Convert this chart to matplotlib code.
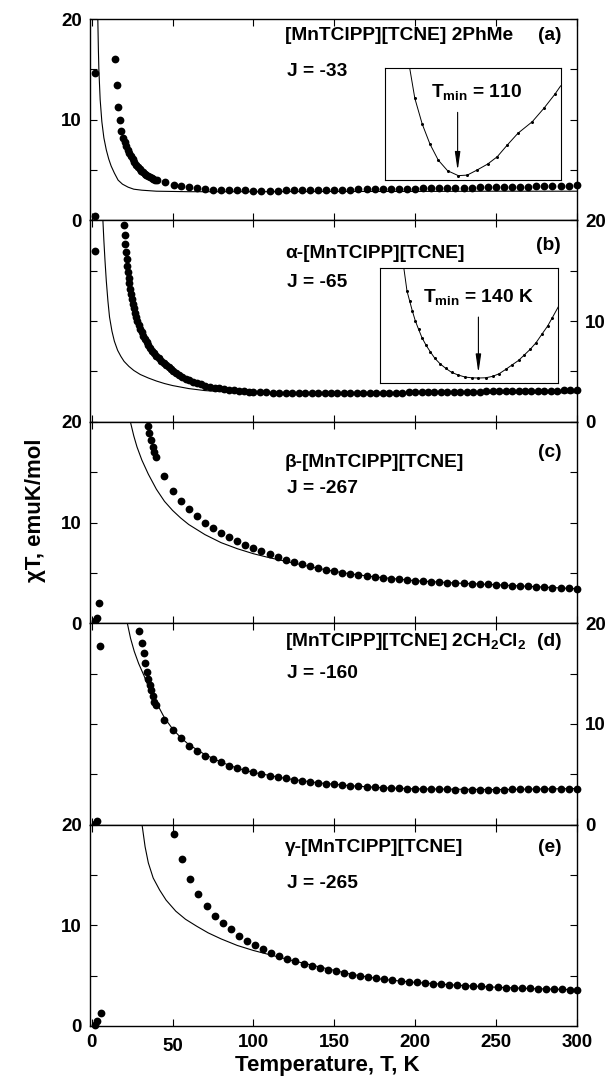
import matplotlib
matplotlib.use("Agg")
import matplotlib.pyplot as plt

plt.rcParams["font.family"] = ["Liberation Sans", "DejaVu Sans"]
plt.rcParams["font.weight"] = "bold"
plt.rcParams["mathtext.fontset"] = "custom"
plt.rcParams["mathtext.rm"] = "Liberation Sans:bold"
plt.rcParams["mathtext.bf"] = "Liberation Sans:bold"
plt.rcParams["mathtext.it"] = "Liberation Sans:bold"
plt.rcParams["mathtext.default"] = "bf"

# ---------------------------------------------------------------------------
# data (chiT in emuK/mol, T in K)
# ---------------------------------------------------------------------------
# (a) [MnTClPP][TCNE] 2PhMe
T_a = [2, 2, 14.6, 15.4, 16.2, 17.3, 18.3, 19.4, 20.3, 21.3, 22.3, 23.3, 24.3, 25.4,
       26.4, 27.5, 28.5, 29.6, 30.6, 31.7, 32.8, 33.8, 34.8, 35.9, 37.0, 38.0, 39.1, 40.2,
       45.4, 50.6, 55, 60, 65, 70, 75, 80, 85, 90, 95, 100, 105, 110,
       115, 120, 125, 130, 135, 140, 145, 150, 155, 160, 165, 170, 175, 180, 185, 190,
       195, 200, 205, 210, 215, 220, 225, 230, 235, 240, 245, 250, 255, 260, 265, 270,
       275, 280, 285, 290, 295, 300]
chi_a = [14.6, 0.4, 16.0, 13.4, 11.3, 10.0, 8.9, 8.2, 7.8, 7.4, 7.0, 6.7, 6.35, 6.05,
         5.8, 5.55, 5.3, 5.1, 4.95, 4.8, 4.65, 4.5, 4.4, 4.3, 4.2, 4.12, 4.05, 4.0,
         3.8, 3.55, 3.4, 3.3, 3.2, 3.12, 3.06, 3.02, 3.0, 2.98, 2.97, 2.96, 2.96, 2.95,
         2.96, 2.97, 2.98, 2.99, 3.0, 3.01, 3.02, 3.04, 3.05, 3.06, 3.08, 3.09, 3.1, 3.11,
         3.12, 3.14, 3.15, 3.16, 3.18, 3.19, 3.2, 3.22, 3.23, 3.25, 3.26, 3.28, 3.29, 3.3,
         3.32, 3.33, 3.35, 3.36, 3.38, 3.39, 3.41, 3.42, 3.44, 3.47]
fitT_a = [3.75, 4.1, 4.4, 5.2, 6.25, 7.5, 9, 10.5, 12, 14, 16.3, 19, 22.5, 26, 31, 40,
          60, 100, 150, 200, 250, 300]
fit_a = [20, 17, 15, 12, 9.8, 8.2, 7.0, 6.1, 5.4, 4.7, 4.0, 3.6, 3.3, 3.1, 3.0, 2.9,
         2.85, 2.85, 2.87, 2.88, 2.9, 2.9]

# (b) alpha-[MnTClPP][TCNE]
T_b = [2, 20.0, 20.4, 20.8, 21.2, 21.6, 22.0, 22.4, 22.8, 23.2, 23.7, 24.2, 24.8, 25.4,
       26.0, 26.7, 27.4, 28.2, 29.0, 29.9, 30.8, 31.8, 32.8, 33.9, 35.0, 36.2, 37.4, 38.7,
       40.0, 41.5, 43.0, 44.5, 46, 47.5, 49, 50.5, 52, 54, 56, 58, 60, 62.5, 65, 67.5, 70,
       73, 76, 79, 82, 85, 88, 91, 94, 97, 100, 104, 108, 112, 116, 120, 124, 128, 132,
       136, 140, 144, 148, 152, 156, 160, 164, 168, 172, 176, 180, 184, 188, 192, 196, 200,
       204, 208, 212, 216, 220, 224, 228, 232, 236, 240, 244, 248, 252, 256, 260, 264, 268,
       272, 276, 280, 284, 288, 292, 296, 300]
chi_b = [17.0, 19.5, 18.6, 17.7, 16.9, 16.2, 15.5, 14.9, 14.3, 13.8, 13.2, 12.7, 12.2, 11.7,
         11.3, 10.8, 10.4, 10.0, 9.6, 9.2, 8.9, 8.5, 8.2, 7.9, 7.6, 7.3, 7.0, 6.8,
         6.5, 6.3, 6.0, 5.8, 5.6, 5.4, 5.2, 5.0, 4.85, 4.65, 4.45, 4.3, 4.15, 4.0, 3.85, 3.72, 3.6,
         3.5, 3.4, 3.32, 3.25, 3.18, 3.12, 3.07, 3.03, 3.0, 2.97, 2.94, 2.92, 2.9, 2.88, 2.87, 2.86,
         2.85, 2.85, 2.84, 2.84, 2.84, 2.84, 2.85, 2.85, 2.86, 2.86, 2.87, 2.88, 2.88, 2.89, 2.9,
         2.9, 2.91, 2.92, 2.93, 2.94, 2.94, 2.95, 2.96, 2.97, 2.97, 2.98, 2.99, 3.0, 3.0, 3.01,
         3.02, 3.03, 3.03, 3.04, 3.05, 3.06, 3.07, 3.07, 3.08, 3.09, 3.1, 3.11, 3.12, 3.13]
fitT_b = [6.9, 7.5, 8.2, 9, 10, 11, 12.5, 14, 16, 18, 20, 23, 26, 30, 35, 40, 45, 50, 60,
          70, 80, 90, 100, 150, 200, 250, 300]
fit_b = [20, 18, 16, 14, 12, 10.4, 9.0, 8.0, 7.1, 6.5, 6.0, 5.5, 5.1, 4.7, 4.35, 4.05, 3.8,
         3.6, 3.3, 3.1, 3.0, 2.92, 2.87, 2.82, 2.84, 2.86, 2.88]

# (c) beta-[MnTClPP][TCNE]
T_c = [2, 3, 4.5, 34.7, 35.4, 36.4, 37.8, 38.8, 39.7,
       45, 50, 55, 60, 65, 70, 75, 80, 85, 90, 95, 100, 105, 110, 115, 120, 125, 130,
       135, 140, 145, 150, 155, 160, 165, 170, 175, 180, 185, 190, 195, 200, 205, 210,
       215, 220, 225, 230, 235, 240, 245, 250, 255, 260, 265, 270, 275, 280, 285, 290,
       295, 300]
chi_c = [0.2, 0.5, 2.0, 19.6, 18.9, 18.2, 17.5, 17.0, 16.5,
         14.6, 13.1, 12.1, 11.3, 10.6, 10.0, 9.5, 9.0, 8.6, 8.2, 7.8, 7.5, 7.15, 6.85, 6.6,
         6.3, 6.1, 5.85, 5.7, 5.5, 5.3, 5.15, 5.0, 4.9, 4.8, 4.7, 4.6, 4.5, 4.42, 4.35, 4.28,
         4.22, 4.17, 4.12, 4.07, 4.03, 3.99, 3.95, 3.91, 3.88, 3.85, 3.82, 3.78, 3.74, 3.7,
         3.66, 3.62, 3.58, 3.54, 3.5, 3.46, 3.42]
fitT_c = [23.9, 26, 28, 31, 35, 40, 45, 50, 55, 60, 70, 80, 90, 100, 110, 120, 130, 140,
          150, 160, 175, 200, 225, 250, 275, 300]
fit_c = [20, 18.6, 17.5, 16.2, 14.8, 13.3, 12.1, 11.2, 10.45, 9.8, 8.8, 8.0, 7.4, 6.9, 6.5,
         6.15, 5.8, 5.45, 5.15, 4.9, 4.6, 4.22, 3.99, 3.82, 3.62, 3.42]

# (d) [MnTClPP][TCNE] 2CH2Cl2
T_d = [2, 3.5, 4.8, 29.2, 31.1, 32.3, 33.0, 34.0, 35.0, 35.9, 36.8, 37.8, 38.8, 40.0,
       45, 50, 55, 60, 65, 70, 75, 80, 85, 90, 95, 100, 105, 110, 115, 120, 125, 130,
       135, 140, 145, 150, 155, 160, 165, 170, 175, 180, 185, 190, 195, 200, 205, 210,
       215, 220, 225, 230, 235, 240, 245, 250, 255, 260, 265, 270, 275, 280, 285, 290,
       295, 300]
chi_d = [0.1, 0.35, 17.7, 19.2, 18.0, 17.0, 16.0, 15.2, 14.5, 13.9, 13.4, 12.8, 12.2, 11.9,
         10.4, 9.4, 8.6, 7.8, 7.3, 6.8, 6.5, 6.2, 5.85, 5.6, 5.4, 5.2,
         5.0, 4.85, 4.7, 4.6, 4.45, 4.35, 4.25, 4.15, 4.08, 4.0,
         3.92, 3.86, 3.8, 3.74, 3.7, 3.66, 3.62, 3.6, 3.57, 3.55,
         3.53, 3.52, 3.5, 3.49, 3.48, 3.47, 3.47, 3.47, 3.47, 3.48,
         3.48, 3.49, 3.5, 3.51, 3.52, 3.53, 3.55, 3.56, 3.57, 3.58]
fitT_d = [22, 24, 26.3, 29, 32.3, 36, 40.7, 45, 50, 55, 60, 70, 80, 90, 100, 120, 140, 160,
          180, 200, 250, 300]
fit_d = [20, 18.5, 17.2, 16.0, 14.8, 13.3, 11.9, 10.6, 9.5, 8.65, 7.95, 6.95, 6.2, 5.6,
         5.18, 4.58, 4.15, 3.86, 3.66, 3.55, 3.48, 3.58]

# (e) gamma-[MnTClPP][TCNE]
T_e = [2, 3.5, 5.7, 51, 56, 61, 66, 71, 76, 81, 86, 91, 96, 101, 106, 111, 116, 121, 126,
       131, 136, 141, 146, 151, 156, 161, 166, 171, 176, 181, 186, 191, 196, 201, 206, 211,
       216, 221, 226, 231, 236, 241, 246, 251, 256, 261, 266, 271, 276, 281, 286, 291, 296,
       300]
chi_e = [0.1, 0.5, 1.3, 19.1, 16.6, 14.6, 13.1, 11.9, 10.9, 10.2, 9.6, 8.95, 8.45,
         8.0, 7.6, 7.25, 6.95, 6.7, 6.45, 6.2, 6.0, 5.8, 5.6,
         5.42, 5.25, 5.1, 4.95, 4.82, 4.72, 4.63, 4.55, 4.47, 4.4,
         4.33, 4.27, 4.21, 4.16, 4.11, 4.06, 4.01, 3.97, 3.93, 3.89,
         3.85, 3.82, 3.79, 3.76, 3.73, 3.7, 3.68, 3.66, 3.64, 3.62, 3.6]
fitT_e = [31.1, 33, 35, 38, 42, 46, 52, 58, 65, 72, 80, 90, 100, 112, 124, 136, 148, 160,
          180, 200, 225, 250, 275, 300]
fit_e = [20, 17.8, 16.2, 14.7, 13.5, 12.5, 11.4, 10.6, 9.9, 9.25, 8.65, 8.0, 7.5, 7.0,
         6.5, 6.05, 5.6, 5.15, 4.63, 4.33, 4.06, 3.85, 3.7, 3.6]

# insets: minimum region, in inset box fractions
inset_a_x = [0.143, 0.172, 0.214, 0.258, 0.305, 0.358, 0.419, 0.470, 0.525, 0.585, 0.640,
             0.695, 0.757, 0.839, 0.905, 0.967, 1.0]
inset_a_y = [1.0, 0.731, 0.501, 0.322, 0.179, 0.084, 0.040, 0.045, 0.090, 0.143, 0.209,
             0.310, 0.418, 0.522, 0.642, 0.767, 0.842]
inset_b_x = [0.135, 0.153, 0.168, 0.183, 0.200, 0.218, 0.237, 0.259, 0.283, 0.309, 0.338,
             0.370, 0.403, 0.440, 0.479, 0.516, 0.553, 0.593, 0.632, 0.669, 0.706, 0.741,
             0.778, 0.810, 0.843, 0.876, 0.908, 0.941, 0.967, 1.0]
inset_b_y = [1.0, 0.797, 0.710, 0.623, 0.536, 0.464, 0.391, 0.328, 0.270, 0.212, 0.165,
             0.125, 0.090, 0.067, 0.049, 0.043, 0.041, 0.043, 0.055, 0.078, 0.116, 0.154,
             0.194, 0.241, 0.290, 0.348, 0.420, 0.493, 0.565, 0.658]

names = ["[MnTClPP][TCNE] 2PhMe", "α-[MnTClPP][TCNE]", "β-[MnTClPP][TCNE]",
         r"[MnTClPP][TCNE] 2CH$_2$Cl$_2$", "γ-[MnTClPP][TCNE]"]
tags = ["(a)", "(b)", "(c)", "(d)", "(e)"]
j_values = [-33, -65, -267, -160, -265]

panels = [(T_a, chi_a, fitT_a, fit_a), (T_b, chi_b, fitT_b, fit_b),
          (T_c, chi_c, fitT_c, fit_c), (T_d, chi_d, fitT_d, fit_d),
          (T_e, chi_e, fitT_e, fit_e)]

# text positions (axes fraction): name y, tag y, J y
text_y = [(0.917, 0.917, 0.74), (0.835, 0.875, 0.69), (0.796, 0.846, 0.67),
          (0.91, 0.91, 0.75), (0.887, 0.887, 0.71)]

# ---------------------------------------------------------------------------
fig, axes = plt.subplots(5, 1, figsize=(6.09, 10.8), dpi=100, sharex=True)
fig.subplots_adjust(left=0.148, right=0.947, top=0.9824, bottom=0.05, hspace=0)

for i, ax in enumerate(axes):
    T, chi, fT, fv = panels[i]
    ax.plot(fT, fv, color="black", lw=0.8)
    ax.plot(T, chi, "o", color="black", ms=5.6, mew=0, clip_on=False, zorder=3)

    ax.set_xlim(-1, 300)
    ax.set_ylim(0, 20)
    ax.set_xticks([0, 50, 100, 150, 200, 250, 300])
    ax.set_yticks([0, 5, 10, 15, 20], ["0", "", "10", "", "20"])
    left = (i % 2 == 0)
    ax.tick_params(axis="y", direction="in", length=5, width=0.8, left=True, right=True,
                   labelleft=left, labelright=not left, labelsize=13.5, pad=6)
    ax.tick_params(axis="x", direction="in", length=5, width=0.8, top=True, bottom=True,
                   labelbottom=(i == 4), labelsize=13.5, pad=6)
    for s in ax.spines.values():
        s.set_linewidth(1.0)

    ny, ty, jy = text_y[i]
    ax.text(0.40, ny, names[i], transform=ax.transAxes, fontsize=13.8, va="center", ha="left")
    ax.text(0.968, ty, tags[i], transform=ax.transAxes, fontsize=13.8, va="center", ha="right")
    ax.text(0.405, jy, f"J = {j_values[i]}", transform=ax.transAxes, fontsize=13.8,
            va="center", ha="left")

# the "50" label sits a little lower in the original
axes[4].xaxis.get_major_ticks()[1].set_pad(8.5)

# insets with T_min
ins_a = axes[0].inset_axes([0.605, 0.2, 0.362, 0.556])
ins_b = axes[1].inset_axes([0.595, 0.194, 0.367, 0.572])
for ins, xs, ys, label, lab_x, ax_x, lab_y, a_top in (
        (ins_a, inset_a_x, inset_a_y, r"T$_{min}$ = 110", 0.52, 0.415, 0.79, 0.63),
        (ins_b, inset_b_x, inset_b_y, r"T$_{min}$ = 140 K", 0.555, 0.553, 0.74, 0.594)):
    ins.plot(xs, ys, color="black", lw=0.7)
    ins.plot(xs, ys, "o", color="black", ms=2.2, mew=0, markevery=slice(1, -1))
    ins.set_xlim(0, 1)
    ins.set_ylim(0, 1)
    ins.set_xticks([])
    ins.set_yticks([])
    for s in ins.spines.values():
        s.set_linewidth(0.8)
    ins.text(lab_x, lab_y, label, ha="center", va="center", fontsize=13.8,
             transform=ins.transAxes)
    ins.annotate("", xy=(ax_x, 0.06), xytext=(ax_x, a_top),
                 arrowprops=dict(arrowstyle="-|>,head_width=0.16,head_length=1.1",
                                 color="black", lw=0.8))

fig.text(36 / 609, 1 - 510 / 1080, "χT, emuK/mol", rotation=90, ha="center", va="center",
         fontsize=16)
fig.text(327 / 609, 1 - 1065 / 1080, "Temperature, T, K", ha="center", va="center",
         fontsize=16)

fig.savefig("out.png", dpi=100)
